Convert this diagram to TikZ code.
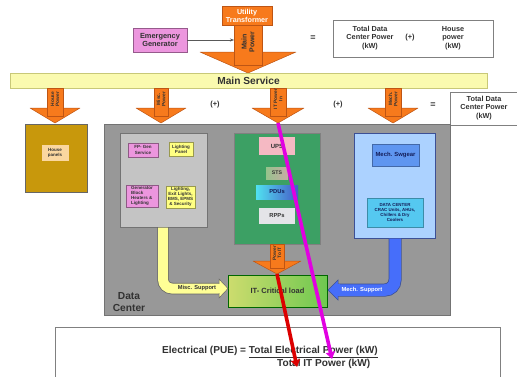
\documentclass[tikz,border=0pt]{standalone}
\usepackage{fontspec}
\setmainfont{Liberation Sans}
\usetikzlibrary{arrows.meta}
\definecolor{orfill}{RGB}{247,122,28}
\definecolor{ordark}{RGB}{190,85,20}
\definecolor{pinkb}{RGB}{236,150,222}
\definecolor{pinkd}{RGB}{150,90,140}
\definecolor{barfill}{RGB}{250,250,175}
\definecolor{bardark}{RGB}{200,200,120}
\definecolor{housefill}{RGB}{200,152,12}
\definecolor{housein}{RGB}{250,215,160}
\definecolor{dcgray}{RGB}{152,152,152}
\definecolor{miscgray}{RGB}{196,196,196}
\definecolor{ybox}{RGB}{255,255,130}
\definecolor{itgreen}{RGB}{60,160,100}
\definecolor{upsfill}{RGB}{245,185,195}
\definecolor{rppfill}{RGB}{228,228,232}
\definecolor{mechfill}{RGB}{172,210,255}
\definecolor{mechdark}{RGB}{60,80,150}
\definecolor{swfill}{RGB}{95,150,240}
\definecolor{cracfill}{RGB}{85,200,240}
\definecolor{navy}{RGB}{20,30,90}
\definecolor{bluecon}{RGB}{70,110,250}
\definecolor{yelcon}{RGB}{255,255,150}
\definecolor{txtgray}{RGB}{50,50,50}
\tikzset{
  smallbox/.style={draw=#1!60!black, line width=0.4pt, inner sep=0.5pt, align=center},
  tinyfont/.style={font=\fontsize{4.5}{5.2}\selectfont\bfseries},
  lblfont/.style={font=\fontsize{7.3}{8.3}\selectfont\bfseries},
  arrtxt/.style={rotate=90, align=center, font=\fontsize{4.8}{5.2}\selectfont\bfseries, text=txtgray},
  conline/.style={line width=3.6pt, -{Triangle[length=7pt,width=9pt]}},
}
\newcommand{\blkarrow}[7]{%
  \draw[fill=orfill, draw=ordark, line width=0.5pt, line join=round] (#1-#5,#4) -- (#1+#5,#4) -- (#1,#6) -- cycle;
  \draw[fill=orfill, draw=ordark, line width=0.5pt] (#1-#3,#2) rectangle (#1+#3,#7);
}
\begin{document}
\begin{tikzpicture}[x=1pt,y=-1pt]
\useasboundingbox (0,0) rectangle (517,376);
\fill[white] (0,0) rectangle (517,376);

% ---------- top ----------
\blkarrow{248}{25}{14}{52}{48}{73}{65}
\node[arrtxt, font=\fontsize{7}{7.6}\selectfont\bfseries] (mp) at (248,42) {Main\\Power};
\node[draw=ordark, fill=orfill, minimum width=50pt, minimum height=19pt, inner sep=0pt, align=center,
      font=\fontsize{7.2}{8}\selectfont\bfseries, text=white] (ut) at (247,16) {Utility\\Transformer};
\node[draw=pinkd, fill=pinkb, minimum width=54pt, minimum height=24pt, inner sep=0pt, align=center,
      font=\fontsize{7.4}{8.6}\selectfont\bfseries, text=txtgray] (eg) at (160,40) {Emergency\\Generator};
\coordinate (mpin) at (234,40);
\draw[gray!70!black, line width=0.5pt, -{Stealth[length=4pt,width=3pt]}] (eg.east) -- (mpin);
\node[font=\fontsize{9}{9}\selectfont\bfseries, text=txtgray] (eq1) at (313,38) {=};
\node[draw=gray, line width=0.6pt, minimum width=160pt, minimum height=37pt] (tr) at (413,38.5) {};
\node[lblfont, align=center, text=txtgray] (tdc1) at (370,38) {Total Data\\Center Power\\(kW)};
\node[font=\fontsize{7.4}{7}\selectfont\bfseries, text=txtgray] (pl0) at (410,38) {(+)};
\node[lblfont, align=center, text=txtgray] (hp) at (453,38) {House\\power\\(kW)};

% ---------- main service ----------
\node[draw=bardark, fill=barfill, minimum width=477pt, minimum height=15pt, inner sep=0pt,
      font=\fontsize{10.2}{11}\selectfont\bfseries, text=txtgray] (ms) at (248.5,80.5) {Main Service};

\blkarrow{55}{88}{8}{108}{25}{123}{116}
\node[arrtxt] (hpw) at (55,99) {House\\Power};
\blkarrow{161}{88}{7}{108}{25}{123}{116}
\node[arrtxt] (mpw) at (161,99) {Misc.\\Power};
\blkarrow{278}{88}{8}{108}{26}{123}{116}
\node[arrtxt] (itp) at (278,99) {IT Power\\In};
\blkarrow{393}{88}{8}{108}{25}{123}{116}
\node[arrtxt] (mcp) at (393,99) {Mech.\\Power};
\coordinate (itin) at (278,123);

\node[font=\fontsize{7.4}{7}\selectfont\bfseries, text=txtgray] (pl1) at (215,105) {(+)};
\node[font=\fontsize{7.4}{7}\selectfont\bfseries, text=txtgray] (pl2) at (338,105) {(+)};
\node[font=\fontsize{9}{9}\selectfont\bfseries, text=txtgray] (eq2) at (433,105) {=};
\draw[gray, line width=0.6pt] (520,92) -- (450,92) -- (450,125) -- (520,125);
\node[lblfont, align=center, text=txtgray] (tdc2) at (484,108) {Total Data\\Center Power\\(kW)};

% ---------- house panels ----------
\node[draw=black!60, fill=housefill, minimum width=62pt, minimum height=68pt, inner sep=0pt] (hpan) at (56,158) {};
\node[fill=housein, minimum width=27pt, minimum height=16pt, inner sep=0pt, align=center, tinyfont, text=txtgray] (hpin) at (55,153) {House\\panels};

% ---------- data center ----------
\node[draw=black!55, fill=dcgray, minimum width=346pt, minimum height=191pt, inner sep=0pt, line width=0.6pt] (dc) at (277,219.5) {};
\node[font=\fontsize{10.2}{12.5}\selectfont\bfseries, text=txtgray, align=center] (dcl) at (129,302) {Data\\Center};

% misc box
\node[draw=black!55, fill=miscgray, minimum width=87pt, minimum height=94pt, inner sep=0pt, line width=0.6pt] (misc) at (163.5,180) {};
\node[smallbox=pinkb, fill=pinkb, minimum width=30pt, minimum height=14pt, tinyfont, text=txtgray] (fpg) at (143,150) {FP- Gen\\Service};
\node[smallbox=ybox, fill=ybox, minimum width=24pt, minimum height=14pt, tinyfont, text=txtgray] (lp) at (181,149) {Lighting\\Panel};
\node[smallbox=pinkb, fill=pinkb, minimum width=32pt, minimum height=22pt, tinyfont, text=txtgray, align=left] (gbh) at (142,196) {Generator\\Block\\Heaters \&\\Lighting};
\node[smallbox=ybox, fill=ybox, minimum width=29pt, minimum height=22pt, tinyfont, text=txtgray] (lel) at (180.5,197) {Lighting,\\Exit Lights,\\BMS, EPMS\\\& Security};

% IT box
\node[draw=black!50, fill=itgreen, minimum width=86pt, minimum height=111pt, inner sep=0pt, line width=0.6pt] (itb) at (277,188.5) {};
\node[fill=upsfill, minimum width=36pt, minimum height=18pt, inner sep=0pt, font=\fontsize{6}{6}\selectfont\bfseries, text=txtgray] (ups) at (277,146) {UPS};
\node[left color={rgb,255:red,150;green,195;blue,140}, right color={rgb,255:red,200;green,170;blue,165}, minimum width=22pt, minimum height=12pt, inner sep=0pt, font=\fontsize{5.2}{6}\selectfont\bfseries, text=txtgray] (sts) at (277,173) {STS};
\node[left color={rgb,255:red,80;green,225;blue,240}, right color={rgb,255:red,70;green,90;blue,200}, minimum width=42pt, minimum height=14pt, inner sep=0pt, font=\fontsize{5.8}{6}\selectfont\bfseries, text=navy] (pdu) at (277,192) {PDUs};
\node[fill=rppfill, minimum width=36pt, minimum height=16pt, inner sep=0pt, font=\fontsize{5.8}{6}\selectfont\bfseries, text=txtgray] (rpp) at (277,216) {RPPs};

% mech box
\node[draw=mechdark, fill=mechfill, minimum width=81pt, minimum height=105pt, inner sep=0pt, line width=0.6pt] (mech) at (394.5,185.5) {};
\node[draw=swfill!70!black, fill=swfill, minimum width=47pt, minimum height=22pt, inner sep=0pt, font=\fontsize{5.9}{6}\selectfont\bfseries, text=navy] (swg) at (395.5,155) {Mech. Swgear};
\node[draw=cracfill!70!black, fill=cracfill, minimum width=56pt, minimum height=29pt, inner sep=0pt, align=center, font=\fontsize{4.4}{5.3}\selectfont\bfseries, text=navy] (crac) at (395,212.5) {DATA CENTER\\CRAC Units, AHUs,\\Chillers \& Dry\\Coolers};

% IT critical load
\node[draw=green!40!black, left color={rgb,255:red,205;green,220;blue,110}, right color={rgb,255:red,110;green,200;blue,80}, minimum width=99pt, minimum height=32pt, inner sep=0pt, font=\fontsize{7.5}{8}\selectfont\bfseries, text=txtgray] (itc) at (277.5,291) {IT- Critical load};

% power to IT
\blkarrow{277}{244}{7}{261}{24}{274}{268}
\node[arrtxt] (pti) at (277,253) {Power\\To IT};
\coordinate (toit) at (277,274);

% yellow connector (misc support)
\draw[black!60, line width=11.5pt, rounded corners=9pt] (163,227) -- (163,288.5) -- (219,288.5);
\draw[yelcon, line width=10pt, rounded corners=9pt] (163,227.5) -- (163,288.5) -- (219.5,288.5);
\draw[fill=yelcon, draw=black!60, line width=0.5pt] (219,279) -- (228,288.5) -- (219,298) -- cycle;
\fill[yelcon] (217,283.6) rectangle (220,293.4);
\node[font=\fontsize{5.7}{6}\selectfont\bfseries, text=txtgray] (msl) at (197,288.5) {Misc. Support};

% blue connector (mech support)
\draw[mechdark, line width=13pt, rounded corners=10pt] (395,238) -- (395,290) -- (337,290);
\draw[bluecon, line width=11.5pt, rounded corners=10pt] (395,238.5) -- (395,290) -- (336.5,290);
\draw[fill=bluecon, draw=mechdark, line width=0.5pt] (338,280) -- (328,290) -- (338,300) -- cycle;
\fill[bluecon] (336,284.3) rectangle (340,295.7);
\node[font=\fontsize{5.8}{6}\selectfont\bfseries, text=white] (mcl) at (362,290) {Mech. Support};

% ---------- bottom formula ----------
\draw[gray, line width=0.6pt] (55,380) -- (55,327) -- (500,327) -- (500,380);
\node[anchor=west, inner sep=0pt, font=\fontsize{10.1}{11}\selectfont\bfseries, text=txtgray] (pue) at (162,352) {Electrical (PUE) = \underline{Total Electrical Power (kW)}};
\node[anchor=west, inner sep=0pt, font=\fontsize{10.1}{11}\selectfont\bfseries, text=txtgray] (den) at (277,364) {Total IT Power (kW)};
\coordinate (redend) at (297,367);
\coordinate (magend) at (332,359);

% ---------- red and magenta lines ----------
\draw[conline, color={rgb,255:red,220;green,0;blue,0}] (toit) -- (redend);
\draw[conline, color={rgb,255:red,225;green,0;blue,225}] (itin) -- (magend);
\end{tikzpicture}
\end{document}
